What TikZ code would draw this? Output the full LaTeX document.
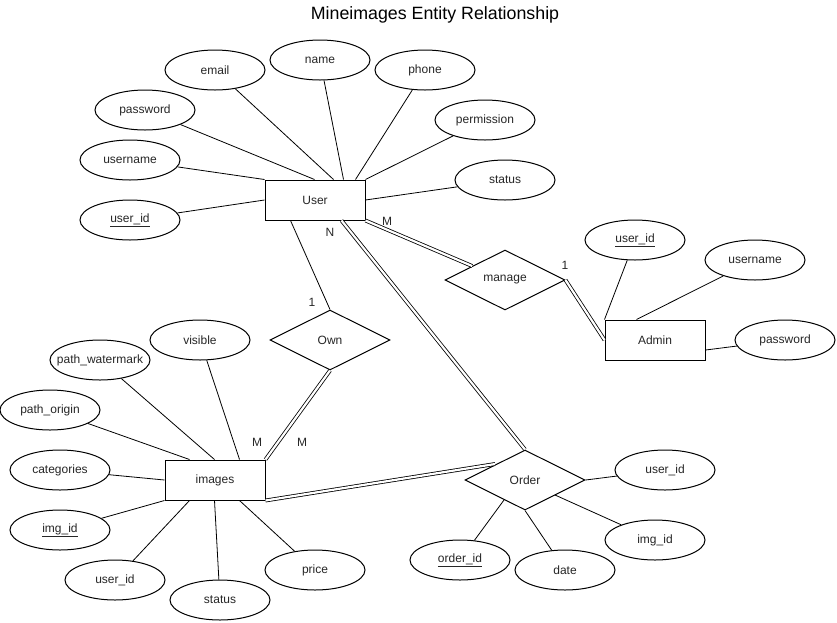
\documentclass[tikz,border=0pt]{standalone}
\usepackage{fontspec}
\setmainfont{Liberation Sans}
\usetikzlibrary{shapes.geometric}
\begin{document}
\begin{tikzpicture}[x=1pt,y=-1pt,
  every node/.style={font=\fontsize{12}{14}\selectfont, text=black!85},
  ent/.style={draw, line width=1pt, minimum width=100pt, minimum height=40pt, inner sep=0pt, fill=white},
  attr/.style={draw, ellipse, line width=1pt, minimum width=100pt, minimum height=40pt, inner sep=0pt, fill=white},
  rel/.style={draw, diamond, aspect=2, line width=1pt, minimum width=120pt, minimum height=60pt, inner sep=0pt, fill=white},
  conn/.style={line width=0.8pt},
  dconn/.style={double, double distance=2.2pt, line width=0.8pt},
  lbl/.style={inner sep=0pt}
]
\useasboundingbox (0,0) rectangle (837,622);

\node[font=\fontsize{17.8}{21}\selectfont, text=black] (title) at (435,15) {Mineimages Entity Relationship};

% entities
\node[ent] (User) at (315,200) {User};
\node[ent] (Admin) at (655,340) {Admin};
\node[ent] (images) at (215,480) {images};

% relations
\node[rel] (manage) at (505,280) {manage};
\node[rel] (Own) at (330,340) {Own};
\node[rel] (Order) at (525,480) {Order};

% User attributes
\node[attr] (email) at (215,70) {email};
\node[attr] (name) at (320,60) {name};
\node[attr] (phone) at (425,70) {phone};
\node[attr] (permission) at (485,120) {permission};
\node[attr] (upass) at (145,110) {password};
\node[attr] (uname) at (130,160) {username};
\node[attr] (uid) at (130,220) {\underline{user\_id}};
\node[attr] (ustatus) at (505,180) {status};

% Admin attributes
\node[attr] (auid) at (635,240) {\underline{user\_id}};
\node[attr] (auser) at (755,260) {username};
\node[attr] (apass) at (785,340) {password};

% images attributes
\node[attr] (visible) at (200,340) {visible};
\node[attr] (pathw) at (100,360) {\makebox[0pt]{path\_watermark}};
\node[attr] (patho) at (50,410) {path\_origin};
\node[attr] (categories) at (60,470) {categories};
\node[attr] (imgid) at (60,530) {\underline{img\_id}};
\node[attr] (iuid) at (115,580) {user\_id};
\node[attr] (istatus) at (220,600) {status};
\node[attr] (price) at (315,570) {price};

% Order attributes
\node[attr] (ouid) at (665,470) {user\_id};
\node[attr] (oimg) at (655,540) {img\_id};
\node[attr] (odate) at (565,570) {date};
\node[attr] (oid) at (460,560) {\underline{order\_id}};

% User attribute lines
\draw[conn] (email) -- ([xshift=69pt]User.north west);
\draw[conn] (upass) -- ([xshift=50pt]User.north west);
\draw[conn] (uname) -- (User.north west);
\draw[conn] (name) -- ([xshift=79pt]User.north west);
\draw[conn] (phone) -- ([xshift=91pt]User.north west);
\draw[conn] (permission) -- (User.north east);
\draw[conn] (uid) -- (User.west);
\draw[conn] (ustatus) -- (User.east);

% Admin attribute lines
\draw[conn] (auid) -- (Admin.north west);
\draw[conn] (auser) -- ([xshift=32pt]Admin.north west);
\draw[conn] (apass) -- ([yshift=-10pt]Admin.east);

% images attribute lines
\draw[conn] (visible) -- ([xshift=75pt]images.north west);
\draw[conn] (pathw) -- ([xshift=50pt]images.north west);
\draw[conn] (patho) -- ([xshift=25pt]images.north west);
\draw[conn] (categories) -- (images.west);
\draw[conn] (imgid) -- (images.south west);
\draw[conn] (iuid) -- ([xshift=25pt]images.south west);
\draw[conn] (istatus) -- ([xshift=50pt]images.south west);
\draw[conn] (price) -- ([xshift=75pt]images.south west);

% Order attribute lines
\draw[conn] (ouid) -- (Order.east);
\draw[conn] (oimg) -- ([xshift=30pt,yshift=-15pt]Order.center);
\draw[conn] (odate) -- (Order.south);
\draw[conn] (oid) -- ([xshift=-21pt,yshift=-20pt]Order.center);

% relationship lines
\draw[conn] ([xshift=26pt]User.south west) -- (Own.north);
\draw[dconn] (User.south east) -- (manage);
\draw[dconn] (manage.east) -- (Admin.west);
\draw[dconn] ([xshift=77pt]User.south west) -- (Order.north);
\draw[dconn] (Own.south) -- (images.north east);
\draw[dconn] (images.south east) -- ([xshift=-30pt,yshift=16pt]Order.center);

% cardinality labels
\node[lbl] (c1) at (312,302) {1};
\node[lbl] (cN) at (330,232) {N};
\node[lbl] (cM1) at (387,221) {M};
\node[lbl] (c2) at (565,265) {1};
\node[lbl] (cM2) at (257,442) {M};
\node[lbl] (cM3) at (302,442) {M};
\end{tikzpicture}
\end{document}
